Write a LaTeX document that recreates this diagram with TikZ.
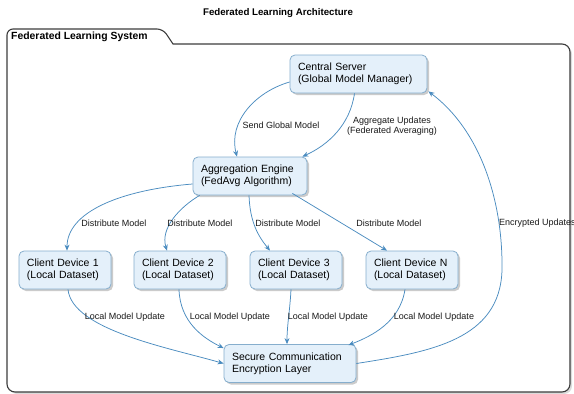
\documentclass[tikz,border=0pt]{standalone}
\usepackage{fontspec}
\setmainfont{Liberation Sans}
\usetikzlibrary{shadows,arrows.meta,calc}
\definecolor{boxfill}{HTML}{E4F0FA}
\definecolor{boxline}{HTML}{86AECD}
\definecolor{arrowc}{HTML}{4A8CC0}
\definecolor{framec}{HTML}{3C3C3C}
\tikzset{
  box/.style={draw=boxline, fill=boxfill, rounded corners=5pt, line width=0.8pt,
    align=left, font=\fontsize{10.5}{12}\selectfont, inner xsep=8pt, inner ysep=3pt,
    minimum height=38pt,
    drop shadow={shadow xshift=2pt, shadow yshift=-2pt, fill=black!45, opacity=0.45}},
  lbl/.style={font=\fontsize{9}{10.5}\selectfont, text=black!90, inner sep=1pt},
  flow/.style={draw=arrowc, line width=0.75pt, -{Stealth[length=6pt,width=5pt]}},
}
\begin{document}
\begin{tikzpicture}[x=1pt,y=-1pt]
\useasboundingbox (0,0) rectangle (574,394);
% title
\node[font=\bfseries\fontsize{9.7}{11}\selectfont] (title) at (278,13) {Federated Learning Architecture};
% frame
\draw[framec, line width=1.1pt, rounded corners=6pt,
  drop shadow={shadow xshift=2pt, shadow yshift=-2pt, fill=black!40, opacity=0.35}, fill=white]
  (7,200) -- (7,29) -- (163,29) [sharp corners] -- (173,44) [rounded corners=8pt] -- (570,44) -- (570,392) -- (7,392) -- cycle;
\node[font=\bfseries\fontsize{10.4}{12}\selectfont, anchor=west, inner sep=0pt] (systab) at (11,37) {Federated Learning System};
% nodes
\node[box, text width=121pt] (central) at (358.5,74) {Central Server\\(Global Model Manager)};
\node[box, text width=98pt] (agg) at (250,176) {Aggregation Engine\\(FedAvg Algorithm)};
\node[box, text width=76pt] (c1) at (65,270) {Client Device 1\\(Local Dataset)};
\node[box, text width=76pt] (c2) at (180,270) {Client Device 2\\(Local Dataset)};
\node[box, text width=76pt] (c3) at (296,270) {Client Device 3\\(Local Dataset)};
\node[box, text width=76pt] (cn) at (412,270) {Client Device N\\(Local Dataset)};
\node[box, text width=116pt] (secure) at (290,363.5) {Secure Communication\\Encryption Layer};
% edges
\draw[flow] ($(central.west)+(0,8)$) .. controls (255,92) and (228,122) .. ($(agg.north)+(-13,0)$);
\node[lbl] (l1) at (281,125) {Send Global Model};
\draw[flow] ($(central.south)+(-4,0)$) .. controls (350,125) and (328,145) .. ($(agg.north east)+(-5,0)$);
\node[lbl, align=center] (l2) at (392,126) {Aggregate Updates\\(Federated Averaging)};
\draw[flow] ($(agg.west)+(0,8)$) .. controls (120,190) and (67,212) .. ($(c1.north)+(2,0)$);
\node[lbl] (l3) at (114,223) {Distribute Model};
\draw[flow] ($(agg.south west)+(7,0)$) .. controls (180,207) and (160,228) .. ($(c2.north)+(-13,0)$);
\node[lbl] (l4) at (200,223) {Distribute Model};
\draw[flow] ($(agg.south)+(-1,0)$) .. controls (250,222) and (258,236) .. ($(c3.north)+(-26,0)$);
\node[lbl] (l5) at (288,223) {Distribute Model};
\draw[flow] ($(agg.south east)+(-15,-2)$) -- ($(cn.north)+(-25,0)$);
\node[lbl] (l6) at (389,223) {Distribute Model};
\draw[flow] ($(c1.south)+(3,0)$) .. controls (72,330) and (170,348) .. ($(secure.west)+(0,0)$);
\node[lbl] (l7) at (125,317) {Local Model Update};
\draw[flow] ($(c2.south)+(-1,0)$) .. controls (180,322) and (203,338) .. ($(secure.north west)+(0,4)$);
\node[lbl] (l8) at (230,317) {Local Model Update};
\draw[flow] ($(c3.south)+(-5,0)$) .. controls (290,310) and (287,325) .. ($(secure.north)+(-3,0)$);
\node[lbl] (l9) at (328,317) {Local Model Update};
\draw[flow] ($(cn.south)+(-7,0)$) .. controls (400,322) and (372,336) .. ($(secure.north east)+(-8,1)$);
\node[lbl] (l10) at (434,317) {Local Model Update};
\draw[flow] (secure.east) .. controls (430,352) and (500,340) .. (502,270)
  .. controls (503,200) and (480,130) .. ($(central.south east)+(1,-2)$);
\node[lbl, anchor=west] (l11) at (498,223) {Encrypted Updates};
\end{tikzpicture}
\end{document}
